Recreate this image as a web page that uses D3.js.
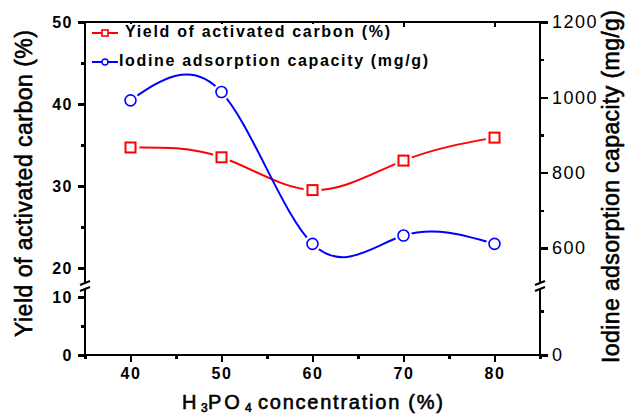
<!DOCTYPE html>
<html>
<head>
<meta charset="utf-8">
<script src="https://cdn.jsdelivr.net/npm/d3@7"></script>
<style>
body { margin: 0; background: #fff; }
svg { font-family: "Liberation Sans", Arial, sans-serif; }
.axis line { stroke: #000; stroke-width: 2.5px; shape-rendering: crispEdges; }
.frame { stroke: #000; stroke-width: 2.5px; fill: none; shape-rendering: crispEdges; }
.lineRed { fill: none; stroke: #ff0000; stroke-width: 2px; }
.lineBlue { fill: none; stroke: #0000ff; stroke-width: 2px; }
.title { stroke: #000; stroke-width: 0.6px; }
</style>
</head>
<body>
<script>

// data
var conc = [40, 50, 60, 70, 80];
var yieldPct = [34.7, 33.5, 29.5, 33.1, 35.9];
var iodine = [992, 1014, 611, 633, 611];

var xTicks = [40, 50, 60, 70, 80];
var xMinor = [35, 45, 55, 65, 75, 85];
var leftHiTicks = [20, 30, 40, 50], leftHiMinor = [25, 35, 45];
var leftLoTicks = [0, 10], leftLoMinor = [5];
var rightHiTicks = [600, 800, 1000, 1200], rightHiMinor = [700, 900, 1100];
var rightLoTicks = [0], rightLoMinor = [200];

var pL = 85, pR = 540, pT = 22, pB = 355, breakY = 286;

var x = d3.scaleLinear().domain([35, 85]).range([pL, pR]);
var yL = d3.scaleLinear().domain([20, 50]).range([268, pT]);
var yLlow = d3.scaleLinear().domain([0, 10]).range([pB, 297]);
var yR = d3.scaleLinear().domain([600, 1200]).range([248, pT]);
var yRlow = d3.scaleLinear().domain([0, 200]).range([pB, 311]);

var svg = d3.select("body").append("svg")
  .attr("width", 625)
  .attr("height", 416);

svg.append("rect").attr("width", 625).attr("height", 416).attr("fill", "#fff");

// axis frame lines
svg.append("line").attr("class", "frame")
  .attr("x1", pL).attr("x2", pR).attr("y1", pT).attr("y2", pT);
svg.append("line").attr("class", "frame")
  .attr("x1", pL).attr("x2", pR).attr("y1", pB).attr("y2", pB);
[pL, pR].forEach(function(xx) {
  svg.append("line").attr("class", "frame")
    .attr("x1", xx).attr("x2", xx).attr("y1", pT).attr("y2", breakY - 3);
  svg.append("line").attr("class", "frame")
    .attr("x1", xx).attr("x2", xx).attr("y1", breakY + 3).attr("y2", pB + 2);
  // break marks
  [-3, 3].forEach(function(o) {
    svg.append("line")
      .attr("x1", xx - 5).attr("x2", xx + 5)
      .attr("y1", breakY + o + 2).attr("y2", breakY + o - 2)
      .attr("stroke", "#000").attr("stroke-width", 2);
  });
});

function addAxis(axis, tx, ty, style) {
  var g = svg.append("g").attr("class", "axis")
    .attr("transform", "translate(" + tx + "," + ty + ")")
    .call(axis);
  g.select(".domain").remove();
  g.selectAll("text")
    .attr("fill", "#000")
    .style("font-size", style.size + "px")
    .style("font-weight", style.weight)
    .style("letter-spacing", style.ls + "px");
  return g;
}

var boldLbl = {size: 16, weight: "bold", ls: 1.5};
var rightLbl = {size: 18, weight: "normal", ls: 1.5};
var fmt = d3.format("d");

// bottom axis
addAxis(d3.axisBottom(x).tickValues(xTicks).tickSize(7).tickPadding(6).tickFormat(fmt), 0, pB, boldLbl);
addAxis(d3.axisBottom(x).tickValues(xMinor).tickSize(4).tickFormat(""), 0, pB, boldLbl);
// top axis, inward ticks
addAxis(d3.axisBottom(x).tickValues(xTicks).tickSize(5).tickFormat(""), 0, pT, boldLbl);

// left axis (two segments)
addAxis(d3.axisLeft(yL).tickValues(leftHiTicks).tickSize(7).tickPadding(5).tickFormat(fmt), pL, 0, boldLbl);
addAxis(d3.axisLeft(yL).tickValues(leftHiMinor).tickSize(4).tickFormat(""), pL, 0, boldLbl);
addAxis(d3.axisLeft(yLlow).tickValues(leftLoTicks).tickSize(7).tickPadding(5).tickFormat(fmt), pL, 0, boldLbl);
addAxis(d3.axisLeft(yLlow).tickValues(leftLoMinor).tickSize(4).tickFormat(""), pL, 0, boldLbl);

// right axis (two segments)
addAxis(d3.axisRight(yR).tickValues(rightHiTicks).tickSize(8).tickPadding(4).tickFormat(fmt), pR, 0, rightLbl);
addAxis(d3.axisRight(yR).tickValues(rightHiMinor).tickSize(4).tickFormat(""), pR, 0, rightLbl);
addAxis(d3.axisRight(yRlow).tickValues(rightLoTicks).tickSize(8).tickPadding(4).tickFormat(fmt), pR, 0, rightLbl);
addAxis(d3.axisRight(yRlow).tickValues(rightLoMinor).tickSize(4).tickFormat(""), pR, 0, rightLbl);

// series
var red = conc.map(function(c, i) { return {x: c, y: yieldPct[i]}; });
var blue = conc.map(function(c, i) { return {x: c, y: iodine[i]}; });

var lineRed = d3.line().curve(d3.curveNatural)
  .x(function(d) { return x(d.x); })
  .y(function(d) { return yL(d.y); });
var lineBlue = d3.line().curve(d3.curveNatural)
  .x(function(d) { return x(d.x); })
  .y(function(d) { return yR(d.y); });

svg.append("path").datum(red).attr("class", "lineRed").attr("d", lineRed);
svg.append("path").datum(blue).attr("class", "lineBlue").attr("d", lineBlue);

// gaps around symbols
svg.selectAll(".gapR").data(red).enter().append("circle")
  .attr("cx", function(d) { return x(d.x); })
  .attr("cy", function(d) { return yL(d.y); })
  .attr("r", 9).attr("fill", "#fff");
svg.selectAll(".gapB").data(blue).enter().append("circle")
  .attr("cx", function(d) { return x(d.x); })
  .attr("cy", function(d) { return yR(d.y); })
  .attr("r", 8.5).attr("fill", "#fff");

svg.selectAll(".sq").data(red).enter().append("rect")
  .attr("x", function(d) { return x(d.x) - 5; })
  .attr("y", function(d) { return yL(d.y) - 5; })
  .attr("width", 10).attr("height", 10)
  .attr("fill", "#fff").attr("stroke", "#ff0000").attr("stroke-width", 2);
svg.selectAll(".ci").data(blue).enter().append("circle")
  .attr("cx", function(d) { return x(d.x); })
  .attr("cy", function(d) { return yR(d.y); })
  .attr("r", 5.5)
  .attr("fill", "#fff").attr("stroke", "#0000ff").attr("stroke-width", 1.6);

// legend
var leg = svg.append("g");
leg.append("rect").attr("x", 88).attr("y", 24).attr("width", 310).attr("height", 46).attr("fill", "#fff");
leg.append("line").attr("x1", 92).attr("x2", 118).attr("y1", 33).attr("y2", 33)
  .attr("stroke", "#ff0000").attr("stroke-width", 2);
leg.append("rect").attr("x", 102).attr("y", 30).attr("width", 6).attr("height", 6)
  .attr("fill", "#fff").attr("stroke", "#ff0000").attr("stroke-width", 1.6);
leg.append("text").attr("x", 125).attr("y", 37)
  .attr("textLength", 265).attr("lengthAdjust", "spacing")
  .style("font-size", "16px").style("font-weight", "bold")
  .text("Yield of activated carbon (%)");
leg.append("line").attr("x1", 92).attr("x2", 118).attr("y1", 62).attr("y2", 62)
  .attr("stroke", "#0000ff").attr("stroke-width", 2);
leg.append("circle").attr("cx", 105).attr("cy", 62).attr("r", 3)
  .attr("fill", "#fff").attr("stroke", "#0000ff").attr("stroke-width", 1.4);
leg.append("text").attr("x", 119).attr("y", 66)
  .attr("textLength", 309).attr("lengthAdjust", "spacing")
  .style("font-size", "16px").style("font-weight", "bold")
  .text("Iodine adsorption capacity (mg/g)");

// axis titles
svg.append("text").attr("class", "title")
  .attr("transform", "translate(31.5,183.5) rotate(-90)")
  .attr("text-anchor", "middle")
  .attr("textLength", 307).attr("lengthAdjust", "spacing")
  .style("font-size", "23px")
  .text("Yield of activated carbon (%)");

svg.append("text").attr("class", "title")
  .attr("transform", "translate(619,186.5) rotate(-90)")
  .attr("text-anchor", "middle")
  .attr("textLength", 353).attr("lengthAdjust", "spacing")
  .style("font-size", "23px")
  .text("Iodine adsorption capacity (mg/g)");

var xt = svg.append("g").attr("class", "title").style("font-size", "20px");
xt.append("text").attr("x", 182).attr("y", 409).text("H");
xt.append("text").attr("x", 201).attr("y", 412).style("font-size", "12px").text("3");
xt.append("text").attr("x", 208).attr("y", 409).style("letter-spacing", "3px").text("PO");
xt.append("text").attr("x", 245).attr("y", 412).style("font-size", "12px").text("4");
xt.append("text").attr("x", 258).attr("y", 409)
  .attr("textLength", 185).attr("lengthAdjust", "spacing")
  .text("concentration (%)");

</script>
</body>
</html>
